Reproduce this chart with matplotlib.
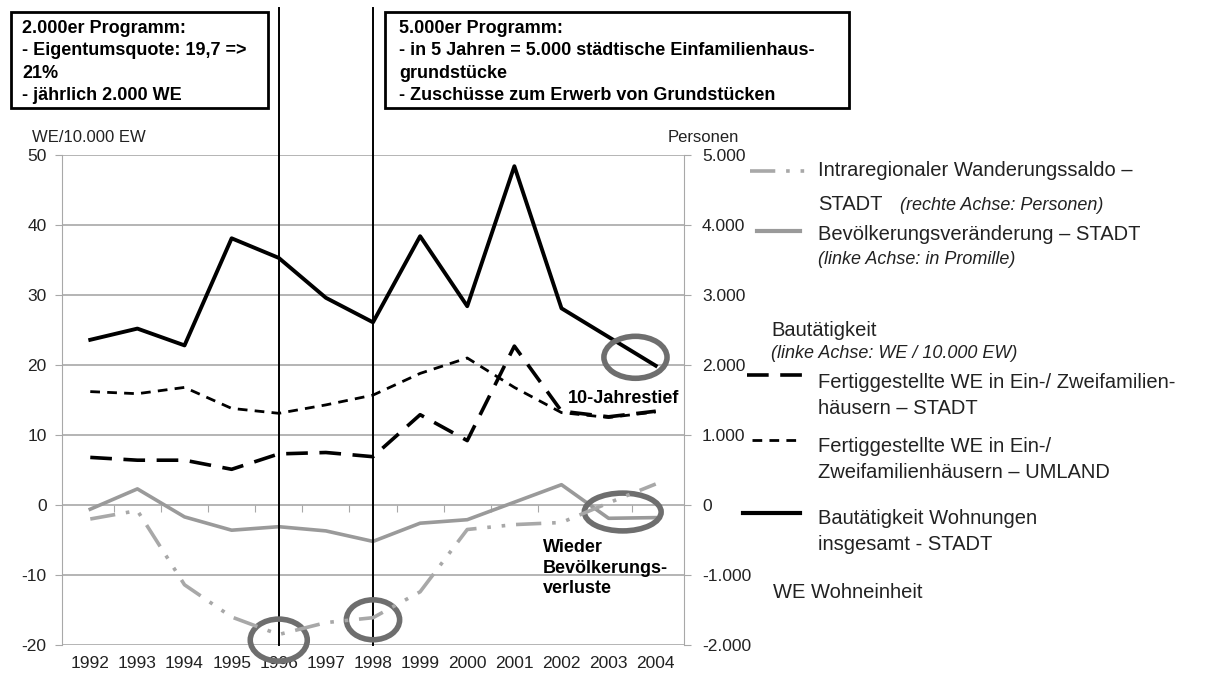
import matplotlib
matplotlib.use("Agg")
import matplotlib.pyplot as plt
from matplotlib.lines import Line2D
from matplotlib.patches import Rectangle, Ellipse
from matplotlib.ticker import FuncFormatter, FixedLocator

plt.rcParams['font.family'] = ['Liberation Sans', 'DejaVu Sans']
plt.rcParams['axes.unicode_minus'] = False

# data
years = ['1992', '1993', '1994', '1995', '1996', '1997', '1998',
         '1999', '2000', '2001', '2002', '2003', '2004']
bau_gesamt = [23.6, 25.2, 22.8, 38.1, 35.3, 29.6, 26.1, 38.4, 28.4, 48.4, 28.1, 24.0, 19.9]
efh_umland = [16.2, 15.9, 16.8, 13.8, 13.1, 14.3, 15.7, 18.8, 21.0, 16.8, 13.2, 12.5, 13.3]
efh_stadt = [6.8, 6.4, 6.4, 5.1, 7.3, 7.5, 6.9, 12.9, 9.2, 22.7, 13.4, 12.6, 13.4]
bev_veraenderung = [-0.6, 2.3, -1.7, -3.6, -3.1, -3.7, -5.2, -2.6, -2.1, 0.4, 2.9, -1.9, -1.8]
wanderungssaldo = [-200, -80, -1140, -1600, -1850, -1680, -1610, -1240, -350, -280, -250, 30, 300]

W, H = 1217, 676

def fx(x):
    return x / W

def fy(y):
    return 1 - y / H

fig = plt.figure(figsize=(W / 100, H / 100), dpi=100)
ax = fig.add_axes([fx(62), fy(645), (684 - 62) / W, (645 - 155) / H])
ax2 = ax.twinx()

x = list(range(len(years)))
grey_line = '#9a9a9a'
grid_col = '#a8a8a8'

# left axis series
ax.plot(x, bau_gesamt, color='black', lw=2.8, zorder=5)
ax.plot(x, efh_umland, color='black', lw=2.0, dashes=(3.5, 2.6), zorder=5)
ax.plot(x, efh_stadt, color='black', lw=2.6, dashes=(6, 3.2), zorder=5)
ax.plot(x, bev_veraenderung, color=grey_line, lw=2.6, zorder=4)
# right axis series
ax2.plot(x, wanderungssaldo, color='#a8a8a8', lw=2.6, dashes=(7, 3, 1, 3, 1, 3), zorder=4)

ax.set_xlim(-0.6, 12.6)
ax.set_ylim(-20, 50)
ax2.set_ylim(-2000, 5000)
ax.set_yticks(range(-20, 51, 10))
ax2.set_yticks(range(-2000, 5001, 1000))
ax2.yaxis.set_major_formatter(FuncFormatter(lambda v, p: f"{int(v):,}".replace(',', '.')))
ax.set_xticks(x)
ax.set_xticklabels(years)

ax.grid(axis='y', color=grid_col, lw=1.2)
ax.set_axisbelow(True)
for a in (ax, ax2):
    for s in ('top', 'bottom'):
        a.spines[s].set_visible(False)
    a.spines['left'].set_color(grid_col)
    a.spines['right'].set_color(grid_col)
ax.spines['right'].set_visible(False)
ax2.spines['left'].set_visible(False)
ax.tick_params(axis='x', length=0, labelsize=12.5, pad=8, colors='#222222')
ax.tick_params(axis='y', length=5, color=grid_col, labelsize=12.5, labelcolor='#222222', pad=6)
ax2.tick_params(axis='y', length=5, color=grid_col, labelsize=12.5, labelcolor='#222222', pad=8)

# small ticks on the zero line between the years
sec = ax.secondary_xaxis(2 / 7)
sec.xaxis.set_major_locator(FixedLocator([i + 0.5 for i in range(12)]))
sec.tick_params(length=5, color=grid_col, labelbottom=False)
sec.spines['bottom'].set_visible(False)

# program lines 1996 and 1998
for yr in (4, 6):
    ax.axvline(yr, ymin=0, ymax=(645 - 8) / 490, color='black', lw=1.4, clip_on=False, zorder=6)

# circles
circ = dict(fill=False, ec='#6e6e6e', lw=4, clip_on=False, zorder=7)
ax.add_patch(Ellipse((4, -19.3), 1.21, 6.0, **circ))
ax.add_patch(Ellipse((6, -16.4), 1.13, 5.7, **circ))
ax.add_patch(Ellipse((11.57, 21.1), 1.34, 6.0, **circ))
ax.add_patch(Ellipse((11.3, -1.0), 1.63, 5.4, **circ))

ax.text(10.13, 15.2, '10-Jahrestief', fontsize=13, fontweight='bold', va='center', zorder=8)
ax.text(9.6, -4.9, 'Wieder\nBevölkerungs-\nverluste', fontsize=13, fontweight='bold',
        va='top', linespacing=1.25, zorder=8)

# axis titles
fig.text(fx(32), fy(137), 'WE/10.000 EW', fontsize=12, va='center', color='#222222')
fig.text(fx(668), fy(137), 'Personen', fontsize=12, va='center', color='#222222')

# program boxes
for (x0, x1) in ((11, 268), (385, 849)):
    fig.add_artist(Rectangle((fx(x0), fy(108)), (x1 - x0) / W, (108 - 12) / H,
                             transform=fig.transFigure, fill=False, ec='black', lw=2))
fig.text(fx(22), fy(20), '2.000er Programm:\n- Eigentumsquote: 19,7 =>\n21%\n- jährlich 2.000 WE',
         fontsize=13, fontweight='bold', va='top', linespacing=1.42)
fig.text(fx(399), fy(20), '5.000er Programm:\n- in 5 Jahren = 5.000 städtische Einfamilienhaus-\n'
         'grundstücke\n- Zuschüsse zum Erwerb von Grundstücken',
         fontsize=13, fontweight='bold', va='top', linespacing=1.42)

# legend drawn by hand
def sample(x0, x1, y, **kw):
    fig.add_artist(Line2D([fx(x0), fx(x1)], [fy(y), fy(y)], transform=fig.transFigure, **kw))

def ltext(x0, y, s, **kw):
    fig.text(fx(x0), fy(y), s, va='center', color='#222222', **kw)

sample(750, 812, 171, color='#a8a8a8', lw=2.6, dashes=(7, 3, 1, 3, 1, 3))
ltext(818, 171, 'Intraregionaler Wanderungssaldo –', fontsize=14.5)
ltext(818, 204, 'STADT', fontsize=14.5)
ltext(900, 206, '(rechte Achse: Personen)', fontsize=13, style='italic')

sample(757, 800, 231, color=grey_line, lw=3)
ltext(818, 235, 'Bevölkerungsveränderung – STADT', fontsize=14.5)
ltext(818, 259, '(linke Achse: in Promille)', fontsize=13, style='italic')

ltext(771, 331, 'Bautätigkeit', fontsize=14.5)
ltext(771, 354, '(linke Achse: WE / 10.000 EW)', fontsize=13, style='italic')

sample(747, 806, 375, color='black', lw=2.6, dashes=(6, 3.2))
ltext(818, 382, 'Fertiggestellte WE in Ein-/ Zweifamilien-', fontsize=14.5)
ltext(818, 409, 'häusern – STADT', fontsize=14.5)

sample(752, 800, 440, color='black', lw=2.0, dashes=(3.5, 2.6))
ltext(818, 447, 'Fertiggestellte WE in Ein-/', fontsize=14.5)
ltext(818, 473, 'Zweifamilienhäusern – UMLAND', fontsize=14.5)

sample(743, 800, 513, color='black', lw=3)
ltext(818, 519, 'Bautätigkeit Wohnungen', fontsize=14.5)
ltext(818, 545, 'insgesamt - STADT', fontsize=14.5)

ltext(773, 592, 'WE Wohneinheit', fontsize=14.5)

fig.savefig('out.png', dpi=100)
